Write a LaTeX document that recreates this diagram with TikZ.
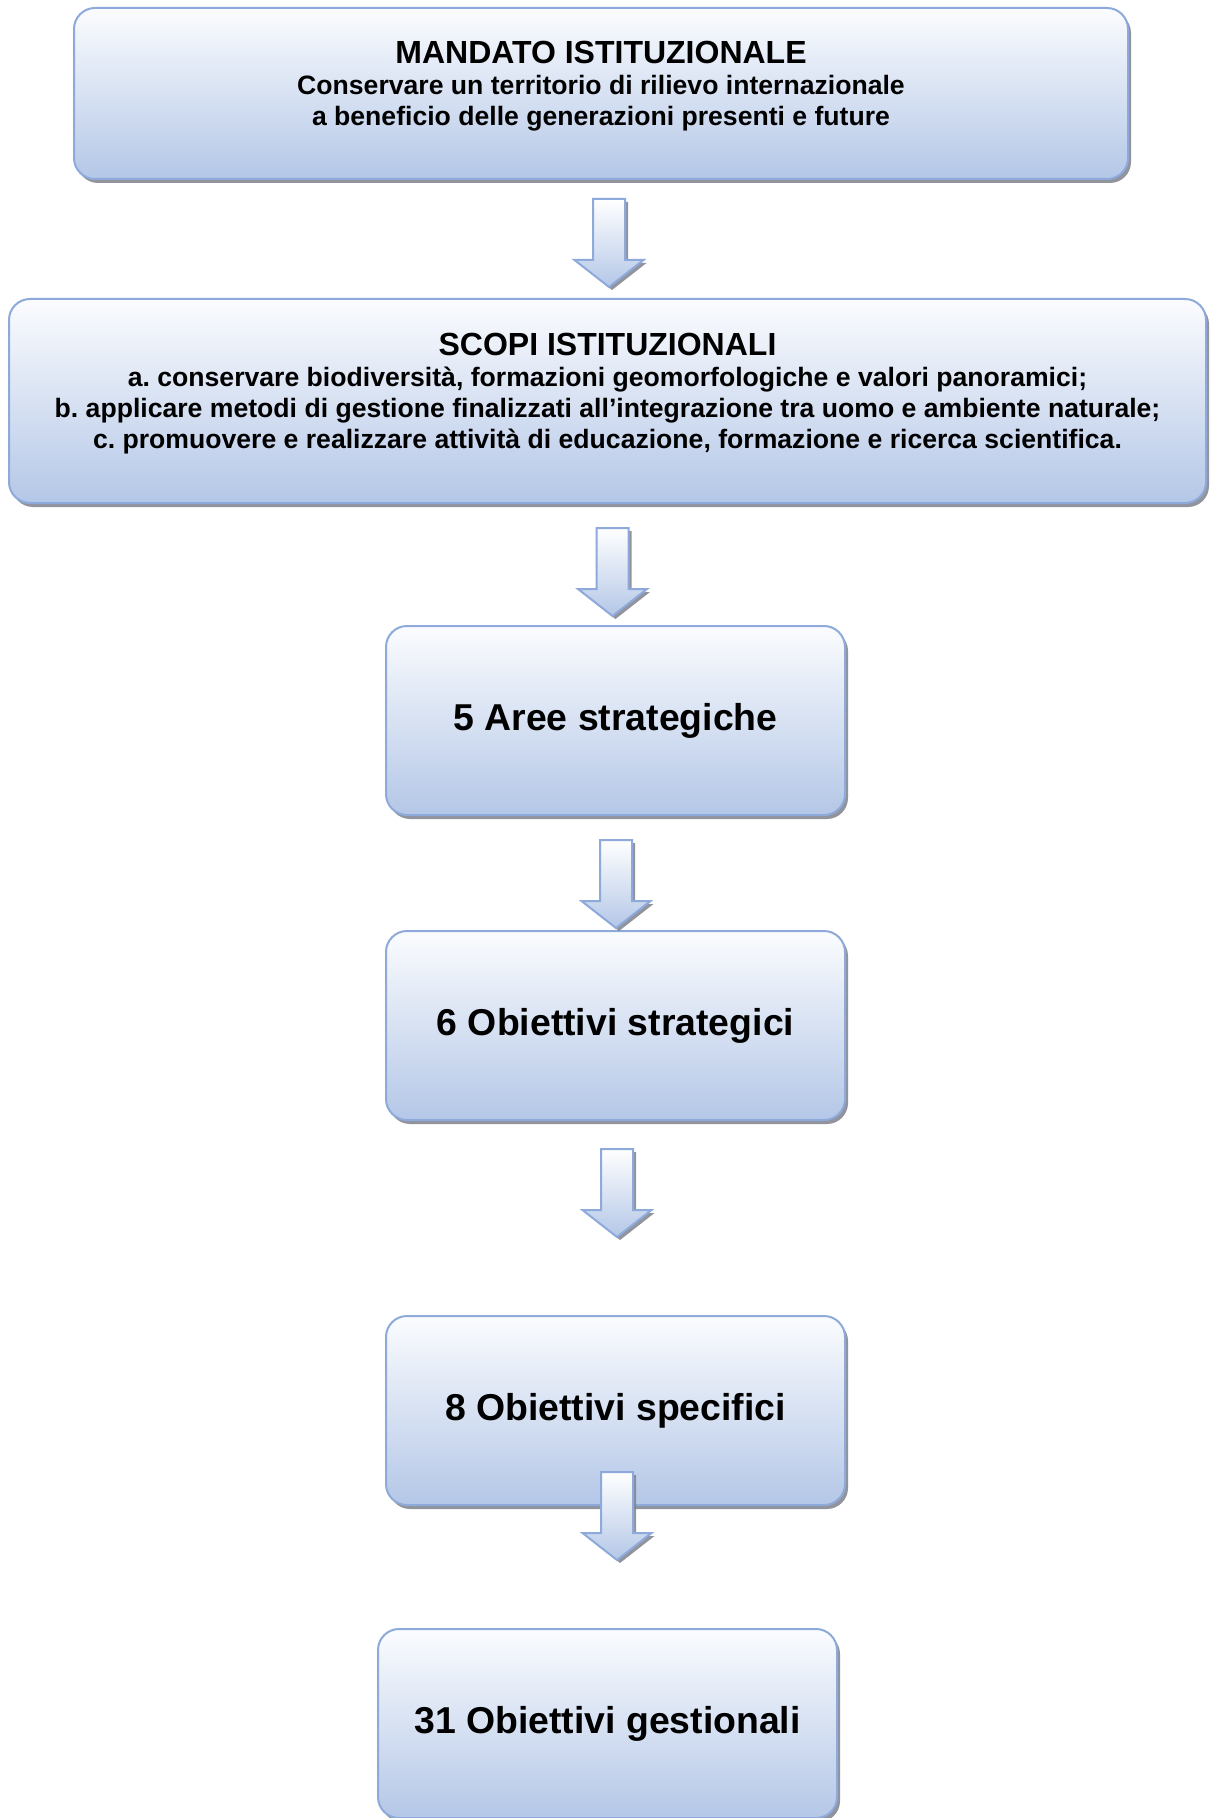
\documentclass[tikz,border=0pt]{standalone}
\usepackage{fontspec}
\setmainfont{Liberation Sans}
\newfontface\titlefont{Liberation Sans Bold}
\usetikzlibrary{shadows}
\frenchspacing
\definecolor{boxline}{HTML}{8EAADB}
\definecolor{boxtop}{HTML}{FBFCFE}
\definecolor{boxbot}{HTML}{B4C7E7}
\definecolor{shadowgray}{HTML}{7F828C}
\newcommand{\boxtitle}[1]{{\titlefont\fontsize{16}{15.5}\selectfont #1}}
\newcommand{\lifted}[1]{\raisebox{2.6pt}[\height][\depth]{\begin{tabular}{@{}c@{}}#1\end{tabular}}}
\tikzset{
  box/.style={draw=boxline,line width=1pt,rounded corners=10.5pt,
    top color=boxtop,bottom color=boxbot,
    drop shadow={shadow xshift=1.5pt,shadow yshift=-2pt,fill=shadowgray,opacity=.85},
    font=\bfseries\fontsize{13.3}{15.5}\selectfont,inner sep=0pt},
  smallbox/.style={box,minimum width=229.5pt,minimum height=94.5pt,
    font=\bfseries\fontsize{18.7}{22}\selectfont},
  pics/downarrow/.style={code={
    \draw[boxline,line width=1pt,line join=miter,top color=white,bottom color=boxbot,
      drop shadow={shadow xshift=1.5pt,shadow yshift=-1.5pt,fill=shadowgray,opacity=.85}]
      (-16,-88) -- (16,-88) -- (16,-27) -- (34.5,-27) -- (0,0) -- (-34.5,-27) -- (-16,-27) -- cycle;
  }}
}
\begin{document}
\begin{tikzpicture}[x=0.5pt,y=-0.5pt]
\useasboundingbox[fill=white] (0,0) rectangle (1210,1818);

\node[box,minimum width=527pt,minimum height=85.5pt] (mandato) at (601,93.5)
  {\lifted{\boxtitle{MANDATO ISTITUZIONALE}\\
   Conservare un territorio di rilievo internazionale\\
   a beneficio delle generazioni presenti e future}};

\node[box,minimum width=598.5pt,minimum height=102pt] (scopi) at (607.5,401)
  {\lifted{\boxtitle{SCOPI ISTITUZIONALI}\\
   a. conservare biodiversità, formazioni geomorfologiche e valori panoramici;\\
   b. applicare metodi di gestione finalizzati all’integrazione tra uomo e ambiente naturale;\\
   c. promuovere e realizzare attività di educazione, formazione e ricerca scientifica.}};

\node[smallbox] (aree) at (615.5,720.5) {5 Aree strategiche};
\node[smallbox] (strategici) at (615.5,1025.5) {6 Obiettivi strategici};
\node[smallbox] (specifici) at (615.5,1410.5) {8 Obiettivi specifici};
\node[smallbox] (gestionali) at (607.5,1723.5) {31 Obiettivi gestionali};

\foreach \x/\y [count=\i] in {609/287,612.5/616,616/928,617/1237,617/1560}
  \pic (arr\i) at (\x,\y) {downarrow};
\end{tikzpicture}
\end{document}
